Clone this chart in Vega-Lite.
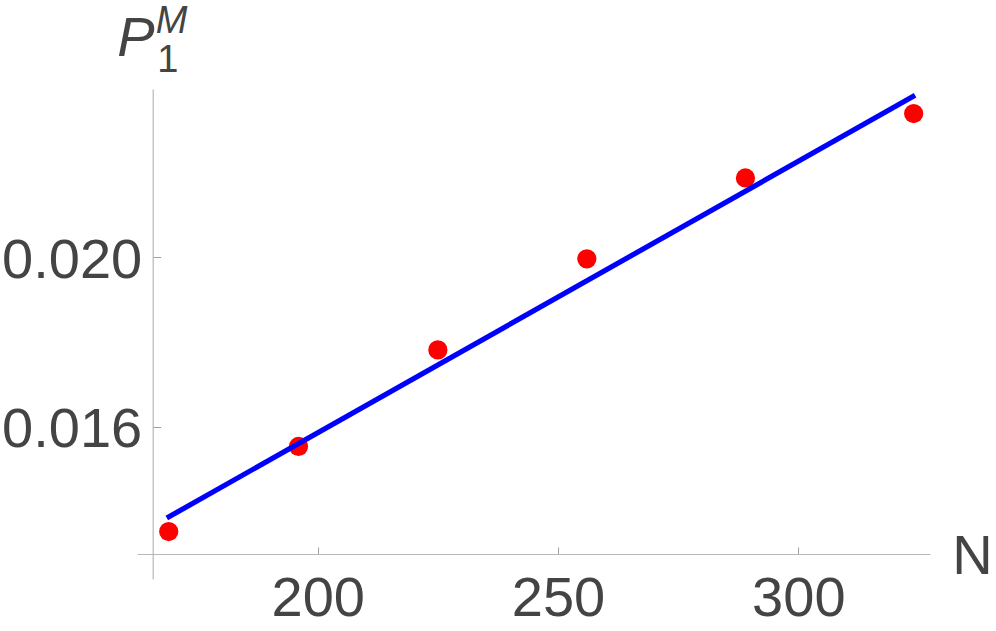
{
  "$schema": "https://vega.github.io/schema/vega-lite/v6.json",
  "autosize": "none",
  "width": 793,
  "height": 490,
  "padding": {"left": 137, "top": 89, "right": 66, "bottom": 52},
  "background": "white",
  "config": {"view": {"stroke": null}, "font": "Liberation Sans"},
  "datasets": {
    "points": [
      {"N": 169, "P": 0.01352},
      {"N": 196, "P": 0.01553},
      {"N": 225, "P": 0.01781},
      {"N": 256, "P": 0.01996},
      {"N": 289, "P": 0.02187},
      {"N": 324, "P": 0.02339}
    ],
    "fit": [
      {"N": 168.6, "P": 0.01384},
      {"N": 324.3, "P": 0.02382}
    ],
    "sub": [
      {"label": "1", "N": 166.6, "P": 0.02437}
    ],
    "sup": [
      {"label": "M", "N": 166.3, "P": 0.0253}
    ]
  },
  "layer": [
    {
      "data": {"name": "points"},
      "mark": {"type": "point", "filled": true, "shape": "circle", "size": 370, "color": "#ff0000", "opacity": 1},
      "encoding": {
        "x": {
          "field": "N", "type": "quantitative",
          "scale": {"domain": [162.4, 327.4], "nice": false, "zero": false},
          "axis": {
            "values": [200, 250, 300], "grid": false, "offset": -25,
            "domainColor": "#b8b8b8", "domainWidth": 1.2,
            "tickColor": "#a0a0a0", "tickSize": -7, "tickWidth": 1,
            "labelFont": "Liberation Sans", "labelFontSize": 56, "labelColor": "#444444",
            "labelPadding": 24, "labelBaseline": "top", "labelFlush": false,
            "title": "N", "titleFont": "Liberation Sans", "titleFontSize": 56, "titleFontWeight": "normal",
            "titleColor": "#444444", "titleX": 835, "titleY": 19, "titleAlign": "center", "titleBaseline": "alphabetic", "titleAnchor": null
          }
        },
        "y": {
          "field": "P", "type": "quantitative",
          "scale": {"domain": [0.0124, 0.02397], "nice": false, "zero": false},
          "axis": {
            "values": [0.016, 0.02], "format": ".3f", "grid": false, "offset": -15.7,
            "domainColor": "#b8b8b8", "domainWidth": 1.2,
            "tickColor": "#a0a0a0", "tickSize": -8, "tickWidth": 1,
            "labelFont": "Liberation Sans", "labelFontSize": 56, "labelColor": "#444444",
            "labelPadding": 19, "labelOffset": 3, "labelFlush": false,
            "title": "P", "titleFont": "Liberation Sans", "titleFontSize": 56, "titleFontWeight": "normal", "titleFontStyle": "italic",
            "titleColor": "#444444", "titleAngle": 0, "titleX": -36, "titleY": -34, "titleAlign": "left", "titleBaseline": "alphabetic", "titleAnchor": null
          }
        }
      }
    },
    {
      "data": {"name": "fit"},
      "mark": {"type": "line", "color": "#0000ff", "strokeWidth": 5.2},
      "encoding": {
        "x": {"field": "N", "type": "quantitative"},
        "y": {"field": "P", "type": "quantitative"}
      }
    },
    {
      "data": {"name": "sub"},
      "mark": {"type": "text", "font": "Liberation Sans", "fontSize": 38, "color": "#444444", "align": "left", "baseline": "alphabetic", "clip": false},
      "encoding": {
        "x": {"field": "N", "type": "quantitative"},
        "y": {"field": "P", "type": "quantitative"},
        "text": {"field": "label"}
      }
    },
    {
      "data": {"name": "sup"},
      "mark": {"type": "text", "font": "Liberation Sans", "fontSize": 38, "fontStyle": "italic", "color": "#444444", "align": "left", "baseline": "alphabetic", "clip": false},
      "encoding": {
        "x": {"field": "N", "type": "quantitative"},
        "y": {"field": "P", "type": "quantitative"},
        "text": {"field": "label"}
      }
    }
  ]
}
